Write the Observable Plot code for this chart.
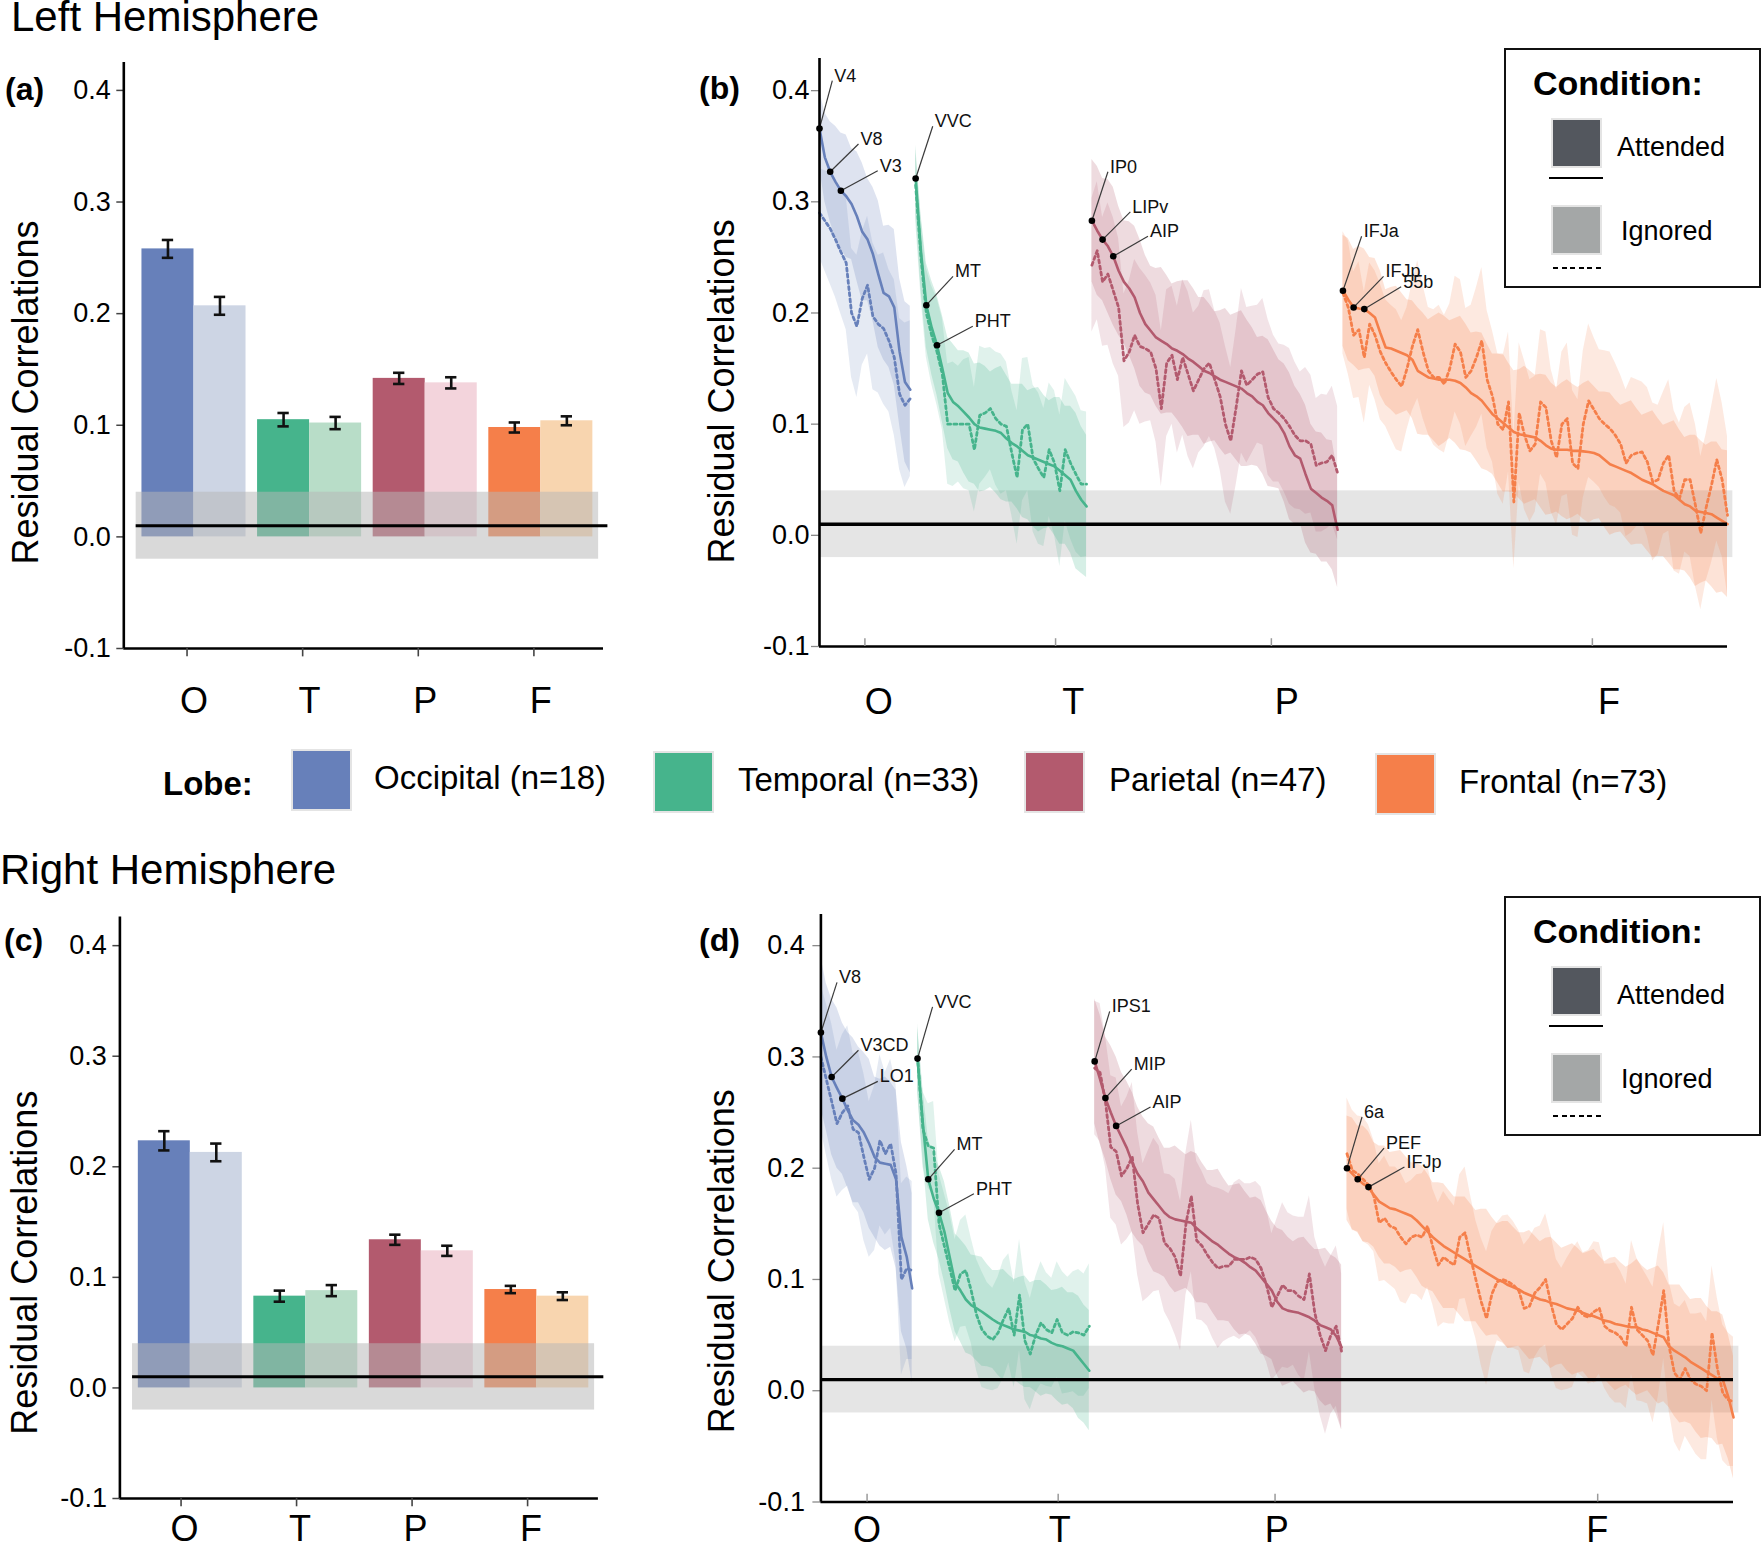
<!DOCTYPE html>
<html>
<head>
<meta charset="utf-8">
<script src="https://cdn.jsdelivr.net/npm/d3@7"></script>
<script src="https://cdn.jsdelivr.net/npm/@observablehq/plot@0.6"></script>
<style>
  html, body { margin: 0; padding: 0; background: #fff; }
  #page { position: relative; width: 1763px; height: 1542px; overflow: hidden;
          font-family: "Liberation Sans", Arial, Helvetica, sans-serif; color: #000; background: #fff; }
  .abs { position: absolute; white-space: nowrap; line-height: 1; }
  .sw { position: absolute; box-sizing: border-box; border: 2px solid #e4e4e4; }
  .condbox { position: absolute; box-sizing: border-box; border: 2px solid #111; width: 257px; height: 240px; background: #fff; }
</style>
</head>
<body>
<div id="page"></div>
<script>
// ---------------- DATA ----------------
const lobes = ["Occipital", "Temporal", "Parietal", "Frontal"];
const lobeLetters = ["O", "T", "P", "F"];
const lobeCounts = [18, 33, 47, 73];
const lobeColors = ["#6780BA", "#46B48C", "#B35A6E", "#F57F4A"];
const lobeLightColors = ["#CDD5E4", "#B8DDC8", "#F3D4DC", "#F8D5AF"];
const conditions = ["Attended", "Ignored"];
const conditionColors = ["#53575E", "#A4A7A7"];
const yTicks = [-0.1, 0, 0.1, 0.2, 0.3, 0.4];
const nullBand = [-0.02, 0.04];
const nullLine = 0.01;

// bar charts (a) left, (c) right
const barAttLH = [0.258, 0.105, 0.142, 0.098];
const barIgnLH = [0.207, 0.102, 0.138, 0.104];
const errAttLH = [0.008, 0.006, 0.005, 0.0045];
const errIgnLH = [0.008, 0.0055, 0.005, 0.004];
const barAttRH = [0.2235, 0.083, 0.134, 0.089];
const barIgnRH = [0.213, 0.088, 0.124, 0.083];
const errAttRH = [0.0087, 0.005, 0.0046, 0.0033];
const errIgnRH = [0.008, 0.005, 0.0046, 0.0035];

// line charts (b) left hemisphere
const attLH_O = [0.366,0.34,0.327,0.318,0.31,0.305,0.298,0.287,0.273,0.266,0.253,0.235,0.218,0.215,0.205,0.165,0.138,0.131];
const ignLH_O = [0.29,0.283,0.276,0.266,0.255,0.245,0.2,0.188,0.213,0.225,0.197,0.19,0.186,0.175,0.16,0.127,0.117,0.123];
const attLH_T = [0.321,0.255,0.207,0.187,0.171,0.15,0.128,0.12,0.116,0.111,0.106,0.1,0.097,0.096,0.095,0.094,0.092,0.087,0.083,0.08,0.076,0.072,0.07,0.068,0.066,0.064,0.062,0.058,0.054,0.05,0.04,0.032,0.026];
const ignLH_T = [0.315,0.25,0.2,0.18,0.165,0.145,0.1,0.1,0.1,0.1,0.1,0.077,0.108,0.11,0.114,0.105,0.1,0.098,0.074,0.052,0.095,0.1,0.069,0.06,0.052,0.077,0.065,0.04,0.077,0.065,0.055,0.046,0.046];
const attLH_P = [0.283,0.274,0.266,0.26,0.251,0.238,0.228,0.222,0.214,0.2,0.19,0.184,0.178,0.175,0.172,0.168,0.166,0.163,0.159,0.156,0.152,0.148,0.146,0.143,0.14,0.138,0.136,0.134,0.132,0.128,0.125,0.12,0.117,0.11,0.105,0.1,0.092,0.08,0.072,0.069,0.055,0.042,0.038,0.034,0.031,0.027,0.005];
const ignLH_P = [0.243,0.256,0.228,0.235,0.22,0.205,0.157,0.165,0.18,0.17,0.168,0.165,0.15,0.114,0.155,0.162,0.14,0.16,0.145,0.13,0.14,0.15,0.155,0.14,0.125,0.1,0.085,0.115,0.148,0.135,0.14,0.145,0.147,0.124,0.114,0.11,0.105,0.098,0.09,0.085,0.085,0.082,0.063,0.065,0.066,0.072,0.056];
const attLH_F = [0.22,0.212,0.205,0.204,0.2035,0.2,0.196,0.182,0.169,0.168,
  0.166,0.164,0.162,0.158,0.148,0.145,0.142,0.141,0.14,0.14,
  0.14,0.139,0.137,0.133,0.128,0.125,0.121,0.115,0.109,0.105,
  0.101,0.097,0.093,0.091,0.09,0.089,0.088,0.085,0.081,0.078,
  0.077,0.077,0.077,0.076,0.076,0.0755,0.075,0.074,0.072,0.068,
  0.064,0.062,0.06,0.058,0.056,0.053,0.05,0.048,0.046,0.043,
  0.04,0.038,0.036,0.032,0.028,0.026,0.022,0.021,0.02,0.019,
  0.016,0.013,0.01];
const ignLH_F = [0.218,0.205,0.18,0.185,0.16,0.19,0.18,0.165,0.155,0.147,
  0.14,0.134,0.15,0.17,0.185,0.165,0.148,0.142,0.142,0.136,
  0.15,0.172,0.165,0.142,0.148,0.16,0.175,0.14,0.125,0.1,
  0.095,0.12,0.03,0.11,0.09,0.076,0.082,0.12,0.115,0.085,
  0.07,0.1,0.105,0.065,0.06,0.1,0.121,0.113,0.105,0.1,
  0.096,0.09,0.082,0.065,0.072,0.074,0.075,0.066,0.048,0.05,
  0.065,0.072,0.04,0.033,0.05,0.05,0.027,0.002,0.025,0.045,
  0.068,0.05,0.018];
const seAttLH_O = [0.035,0.04,0.045,0.05,0.052,0.055,0.05,0.058,0.062,0.055,0.06,0.066,0.06,0.064,0.07,0.066,0.072,0.075];
const seIgnLH_O = [0.04,0.045,0.05,0.052,0.056,0.06,0.058,0.064,0.06,0.062,0.066,0.062,0.068,0.064,0.07,0.068,0.074,0.07];
const seAttLH_T = [0.03,0.034,0.038,0.042,0.045,0.048,0.05,0.052,0.05,0.055,0.058,0.054,0.058,0.056,0.052,0.056,0.06,0.057,0.053,0.056,0.06,0.058,0.062,0.065,0.06,0.057,0.062,0.066,0.062,0.066,0.07,0.066,0.064];
const seIgnLH_T = [0.032,0.036,0.04,0.044,0.048,0.05,0.054,0.056,0.052,0.058,0.06,0.056,0.062,0.058,0.055,0.06,0.063,0.058,0.056,0.06,0.064,0.06,0.066,0.068,0.062,0.06,0.065,0.068,0.064,0.068,0.07,0.066,0.065];
const seAttLH_P = [0.055,0.058,0.055,0.06,0.062,0.058,0.055,0.06,0.064,0.066,0.062,0.058,0.062,0.066,0.062,0.058,0.062,0.066,0.07,0.066,0.062,0.066,0.062,0.058,0.062,0.066,0.062,0.066,0.07,0.066,0.062,0.058,0.062,0.066,0.062,0.058,0.062,0.066,0.062,0.058,0.062,0.058,0.055,0.058,0.055,0.058,0.052];
const seIgnLH_P = [0.06,0.062,0.058,0.064,0.066,0.062,0.06,0.064,0.068,0.07,0.066,0.062,0.066,0.07,0.066,0.062,0.066,0.07,0.074,0.07,0.066,0.07,0.066,0.062,0.066,0.07,0.066,0.07,0.074,0.07,0.066,0.062,0.066,0.07,0.066,0.062,0.066,0.07,0.066,0.062,0.066,0.062,0.06,0.062,0.06,0.062,0.06];
const seAttLH_F = [0.05,0.055,0.052,0.056,0.054,0.05,0.053,0.056,0.052,0.055,0.058,0.054,0.05,0.053,0.057,0.055,0.052,0.056,0.06,0.057,0.053,0.056,0.06,0.057,0.054,0.058,0.061,0.057,0.054,0.058,0.062,0.058,0.055,0.058,0.062,0.059,0.056,0.06,0.063,0.059,0.056,0.06,0.063,0.06,0.057,0.061,0.064,0.06,0.057,0.061,0.064,0.06,0.057,0.061,0.065,0.061,0.058,0.062,0.066,0.062,0.059,0.063,0.067,0.063,0.06,0.064,0.068,0.064,0.061,0.065,0.068,0.064,0.066];
const seIgnLH_F = [0.055,0.06,0.057,0.061,0.059,0.055,0.058,0.061,0.057,0.06,0.063,0.059,0.055,0.058,0.062,0.06,0.057,0.061,0.065,0.062,0.058,0.061,0.065,0.062,0.059,0.063,0.066,0.062,0.059,0.063,0.067,0.063,0.06,0.063,0.067,0.064,0.061,0.065,0.068,0.064,0.061,0.065,0.068,0.065,0.062,0.066,0.069,0.065,0.062,0.066,0.069,0.065,0.062,0.066,0.07,0.066,0.063,0.067,0.071,0.067,0.064,0.068,0.072,0.068,0.065,0.069,0.073,0.069,0.066,0.07,0.073,0.069,0.071];

// line charts (d) right hemisphere
const attRH_O = [0.322,0.3,0.282,0.272,0.2625,0.252,0.243,0.239,0.232,0.222,0.21,0.205,0.204,0.203,0.19,0.138,0.12,0.092];
const ignRH_O = [0.3,0.28,0.26,0.24,0.25,0.256,0.235,0.232,0.21,0.19,0.2,0.225,0.213,0.222,0.195,0.1,0.11,0.108];
const attRH_T = [0.2985,0.24,0.19,0.173,0.16,0.143,0.12,0.097,0.09,0.082,0.077,0.074,0.071,0.0675,0.064,0.061,0.059,0.057,0.055,0.054,0.053,0.05,0.049,0.047,0.046,0.043,0.041,0.04,0.038,0.036,0.03,0.024,0.018];
const ignRH_T = [0.3,0.235,0.22,0.218,0.15,0.13,0.11,0.09,0.105,0.108,0.09,0.068,0.055,0.049,0.046,0.052,0.064,0.074,0.05,0.086,0.045,0.033,0.05,0.061,0.055,0.052,0.064,0.052,0.05,0.053,0.052,0.05,0.058];
const attRH_P = [0.296,0.28,0.263,0.25,0.238,0.228,0.218,0.205,0.195,0.188,0.178,0.172,0.166,0.16,0.156,0.154,0.153,0.152,0.151,0.146,0.142,0.138,0.134,0.131,0.127,0.123,0.12,0.118,0.115,0.111,0.108,0.102,0.096,0.09,0.08,0.074,0.072,0.071,0.07,0.068,0.066,0.063,0.059,0.057,0.055,0.049,0.039];
const ignRH_P = [0.29,0.286,0.26,0.219,0.215,0.193,0.2,0.21,0.168,0.142,0.15,0.158,0.155,0.133,0.128,0.12,0.103,0.15,0.175,0.135,0.13,0.122,0.115,0.11,0.112,0.112,0.118,0.118,0.118,0.12,0.118,0.11,0.095,0.075,0.085,0.095,0.09,0.09,0.085,0.082,0.105,0.07,0.05,0.036,0.05,0.058,0.035];
const attRH_F = [0.2,0.195,0.19,0.186,0.183,0.176,0.17,0.167,0.164,0.163,
  0.161,0.159,0.157,0.153,0.148,0.143,0.138,0.134,0.13,0.127,
  0.124,0.121,0.118,0.115,0.112,0.109,0.106,0.103,0.1,0.098,
  0.095,0.093,0.091,0.088,0.086,0.084,0.082,0.081,0.079,0.078,
  0.076,0.074,0.073,0.072,0.07,0.068,0.067,0.065,0.063,0.062,
  0.06,0.059,0.058,0.057,0.057,0.055,0.054,0.052,0.05,0.048,
  0.04,0.036,0.033,0.03,0.026,0.023,0.02,0.017,0.014,0.011,
  0.01,-0.005,-0.024];
const ignRH_F = [0.213,0.198,0.195,0.19,0.185,0.175,0.151,0.155,0.148,0.146,
  0.138,0.132,0.138,0.14,0.138,0.148,0.129,0.113,0.12,0.116,
  0.113,0.138,0.142,0.12,0.1,0.08,0.065,0.087,0.098,0.1,
  0.098,0.095,0.09,0.074,0.076,0.088,0.093,0.1,0.078,0.06,
  0.055,0.06,0.065,0.075,0.068,0.066,0.071,0.074,0.058,0.054,
  0.052,0.048,0.04,0.075,0.055,0.05,0.045,0.032,0.06,0.09,
  0.04,0.016,0.01,0.02,0.01,0.006,0.004,0.0,0.052,0.02,
  -0.002,-0.008,-0.01];
const seAttRH_O = [0.068,0.066,0.07,0.072,0.068,0.07,0.074,0.07,0.072,0.076,0.072,0.075,0.078,0.074,0.08,0.085,0.082,0.085];
const seIgnRH_O = [0.065,0.068,0.07,0.066,0.07,0.072,0.068,0.072,0.075,0.07,0.074,0.077,0.073,0.076,0.08,0.086,0.082,0.08];
const seAttRH_T = [0.028,0.032,0.036,0.04,0.042,0.045,0.046,0.044,0.046,0.048,0.045,0.047,0.049,0.046,0.044,0.047,0.05,0.047,0.045,0.048,0.05,0.047,0.05,0.052,0.049,0.047,0.05,0.053,0.05,0.052,0.055,0.053,0.054];
const seIgnRH_T = [0.03,0.034,0.038,0.042,0.045,0.047,0.049,0.046,0.048,0.05,0.047,0.05,0.052,0.048,0.046,0.05,0.053,0.049,0.047,0.05,0.053,0.05,0.052,0.055,0.051,0.049,0.052,0.055,0.052,0.054,0.057,0.055,0.056];
const seAttRH_P = [0.056,0.058,0.055,0.06,0.062,0.058,0.06,0.063,0.06,0.058,0.062,0.065,0.061,0.058,0.062,0.066,0.063,0.06,0.064,0.067,0.063,0.06,0.064,0.068,0.064,0.061,0.065,0.068,0.064,0.062,0.066,0.069,0.065,0.062,0.066,0.07,0.066,0.063,0.067,0.07,0.066,0.064,0.068,0.071,0.067,0.07,0.074];
const seIgnRH_P = [0.06,0.062,0.059,0.064,0.066,0.062,0.064,0.067,0.064,0.062,0.066,0.069,0.065,0.062,0.066,0.07,0.067,0.064,0.068,0.071,0.067,0.064,0.068,0.072,0.068,0.065,0.069,0.072,0.068,0.066,0.07,0.073,0.069,0.066,0.07,0.074,0.07,0.067,0.071,0.074,0.07,0.068,0.072,0.075,0.071,0.072,0.07];
const seAttRH_F = [0.047,0.05,0.048,0.052,0.05,0.047,0.05,0.053,0.05,0.052,0.055,0.051,0.048,0.051,0.054,0.052,0.049,0.053,0.056,0.053,0.05,0.053,0.056,0.053,0.05,0.054,0.057,0.053,0.05,0.054,0.057,0.054,0.051,0.054,0.058,0.055,0.052,0.056,0.059,0.055,0.052,0.056,0.059,0.056,0.053,0.057,0.06,0.056,0.053,0.057,0.06,0.056,0.053,0.057,0.061,0.057,0.054,0.058,0.062,0.058,0.055,0.059,0.062,0.058,0.056,0.06,0.063,0.059,0.057,0.06,0.058,0.056,0.055];
const seIgnRH_F = [0.05,0.054,0.052,0.056,0.054,0.05,0.053,0.056,0.053,0.055,0.058,0.054,0.051,0.054,0.057,0.055,0.052,0.056,0.059,0.056,0.053,0.056,0.059,0.056,0.053,0.057,0.06,0.056,0.053,0.057,0.06,0.057,0.054,0.057,0.061,0.058,0.055,0.059,0.062,0.058,0.055,0.059,0.062,0.059,0.056,0.06,0.063,0.059,0.056,0.06,0.063,0.059,0.056,0.06,0.064,0.06,0.057,0.061,0.065,0.061,0.058,0.062,0.065,0.061,0.059,0.063,0.066,0.062,0.06,0.063,0.061,0.06,0.058];

// labelled areas (index into the ordered list of 171 areas)
const areaNamesLH = ["V4","V8","V3","VVC","MT","PHT","IP0","LIPv","AIP","IFJa","IFJp","55b"];
const areaIndexLH = [0,2,4,18,20,22,51,53,55,98,100,102];
const areaNamesRH = ["V8","V3CD","LO1","VVC","MT","PHT","IPS1","MIP","AIP","6a","PEF","IFJp"];
const areaIndexRH = [0,2,4,18,20,22,51,53,55,98,100,102];

// ---------------- LAYOUT (positions / styles) ----------------
const W = 1763, H = 1542;
const FONT = '"Liberation Sans", Arial, Helvetica, sans-serif';
const fmt = d => d.toFixed(1);
const barSlot = {Attended: [0.05, 0.5], Ignored: [0.5, 0.95]};
const capHalf = 0.049;
// label nudges (repel offsets, in data units: [index, value])
const nudgeLH = [[2.4,0.043],[5.3,0.025],[6.9,0.018],[3.2,0.047],[5.0,0.026],[6.7,0.017],[3.0,0.044],[5.2,0.025],[6.5,0.018],[3.5,0.049],[5.6,0.028],[6.9,0.02]];
const nudgeRH = [[3.0,0.045],[5.0,0.024],[6.6,0.0155],[2.8,0.0465],[4.9,0.027],[6.5,0.017],[2.8,0.045],[4.9,0.026],[6.4,0.017],[2.8,0.046],[4.9,0.028],[6.7,0.018]];

function buildSeries(att, ign, seA, seI) {
  const rows = [];
  let k = 0;
  lobes.forEach((lobe, j) => {
    if (att[j].length !== lobeCounts[j] || ign[j].length !== lobeCounts[j] || seA[j].length !== lobeCounts[j] || seI[j].length !== lobeCounts[j])
      console.error("length mismatch", lobe, att[j].length, ign[j].length, seA[j].length, seI[j].length);
    att[j].forEach((v, i) => rows.push({lobe, k: k + i, att: v, ign: ign[j][i], seA: seA[j][i], seI: seI[j][i]}));
    k += lobeCounts[j];
  });
  return rows;
}
function buildBars(att, ign, eA, eI) {
  return lobes.flatMap((lobe, i) => [
    {i, lobe, cond: "Attended", v: att[i], e: eA[i], fill: lobeColors[i]},
    {i, lobe, cond: "Ignored", v: ign[i], e: eI[i], fill: lobeLightColors[i]}
  ]);
}
const svgStyle = {position: "absolute", left: "0px", top: "0px", overflow: "visible", fontFamily: FONT, fontSize: "27px", maxWidth: "none", background: "transparent"};

function barPanel(o) {
  const bars = o.bars;
  const center = d => d.i + (barSlot[d.cond][0] + barSlot[d.cond][1]) / 2;
  return Plot.plot({
    width: W, height: H,
    marginLeft: o.frame[0], marginRight: W - o.frame[1], marginTop: o.frame[2], marginBottom: H - o.frame[3],
    x: {domain: o.xDomain, axis: null},
    y: {domain: o.yDomain, label: null},
    color: {type: "identity"},
    style: svgStyle,
    marks: [
      Plot.rect(bars, {x1: d => d.i + barSlot[d.cond][0], x2: d => d.i + barSlot[d.cond][1], y1: 0, y2: "v", fill: "fill"}),
      Plot.ruleX(bars, {x: center, y1: d => d.v - d.e, y2: d => d.v + d.e, stroke: "#111", strokeWidth: 2.6}),
      Plot.ruleY(bars, {y: d => d.v + d.e, x1: d => center(d) - capHalf, x2: d => center(d) + capHalf, stroke: "#111", strokeWidth: 2.6}),
      Plot.ruleY(bars, {y: d => d.v - d.e, x1: d => center(d) - capHalf, x2: d => center(d) + capHalf, stroke: "#111", strokeWidth: 2.6}),
      Plot.rect([nullBand], {x1: 0, x2: 4, y1: d => d[0], y2: d => d[1], fill: "#b7b7b7", fillOpacity: 0.52}),
      Plot.ruleY([nullLine], {x1: 0, x2: 4.08, stroke: "#000", strokeWidth: 3}),
      Plot.axisY({ticks: yTicks, tickSize: 7, tickPadding: o.tickPadding, tickFormat: fmt, label: null, stroke: "#444", strokeWidth: 1.5}),
      Plot.ruleX([o.xDomain[0]], {y1: o.yDomain[0], y2: o.yDomain[1], stroke: "#000", strokeWidth: 2.6}),
      Plot.ruleY([o.yDomain[0]], {x1: o.xDomain[0], x2: o.xDomain[1], stroke: "#000", strokeWidth: 2.6}),
      Plot.ruleX(o.tickPos, {y1: o.yDomain[0], y2: o.yDomain[0] - 0.0075, stroke: "#444", strokeWidth: 1.6}),
      Plot.text(lobeLetters, {x: (d, i) => o.labelPos[i], frameAnchor: "bottom", dy: o.labelDy, fontSize: 36, lineAnchor: "middle", textAnchor: "middle"}),
      Plot.text(["Residual Correlations"], {frameAnchor: "left", rotate: -90, dx: o.titleDx, dy: o.titleDy, fontSize: 36, textAnchor: "middle", lineAnchor: "middle"})
    ]
  });
}

function linePanel(o) {
  const rows = o.rows;
  const lab = o.names.map((name, j) => {
    const r = rows[o.index[j]];
    return {name, k: r.k, v: r.att, k2: r.k + o.nudge[j][0], v2: r.att + o.nudge[j][1]};
  });
  return Plot.plot({
    width: W, height: H,
    marginLeft: o.frame[0], marginRight: W - o.frame[1], marginTop: o.frame[2], marginBottom: H - o.frame[3],
    x: {domain: [0, 170], axis: null},
    y: {domain: o.yDomain, label: null},
    color: {domain: lobes, range: lobeColors},
    style: svgStyle,
    marks: [
      Plot.rect([nullBand], {x1: 0, x2: 171, y1: d => d[0], y2: d => d[1], fill: "#b7b7b7", fillOpacity: 0.36}),
      Plot.areaY(rows, {x: "k", y1: d => d.att - d.seA, y2: d => d.att + d.seA, z: "lobe", fill: "lobe", fillOpacity: 0.22}),
      Plot.areaY(rows, {x: "k", y1: d => d.ign - d.seI, y2: d => d.ign + d.seI, z: "lobe", fill: "lobe", fillOpacity: 0.17}),
      Plot.lineY(rows, {x: "k", y: "ign", z: "lobe", stroke: "lobe", strokeWidth: 2.8, strokeDasharray: "3,3.2"}),
      Plot.lineY(rows, {x: "k", y: "att", z: "lobe", stroke: "lobe", strokeWidth: 2.6}),
      Plot.ruleY([nullLine], {x1: 0, x2: 170, stroke: "#000", strokeWidth: 3.4}),
      Plot.link(lab, {x1: "k", y1: "v", x2: "k2", y2: "v2", stroke: "#3a3a3a", strokeWidth: 1.2}),
      Plot.dot(lab, {x: "k", y: "v", r: 3.3, fill: "#000"}),
      Plot.text(lab, {x: "k2", y: "v2", text: "name", textAnchor: "start", lineAnchor: "bottom", dx: 2, dy: 1, fontSize: 18, fill: "#111"}),
      Plot.axisY({ticks: yTicks, tickSize: 8, tickPadding: o.tickPadding, tickFormat: fmt, label: null, stroke: "#8a8a8a", strokeWidth: 1.3}),
      Plot.ruleX([0], {y1: o.yDomain[0], y2: o.yDomain[1], stroke: "#000", strokeWidth: 2.6}),
      Plot.ruleY([o.yDomain[0]], {x1: 0, x2: 170, stroke: "#000", strokeWidth: 2.6}),
      Plot.ruleX(o.tickPos, {y1: o.yDomain[0], y2: o.yDomain[0] + 0.007, stroke: "#9a9a9a", strokeWidth: 1.5}),
      Plot.text(lobeLetters, {x: (d, i) => o.labelPos[i], frameAnchor: "bottom", dy: o.labelDy, fontSize: 36, lineAnchor: "middle", textAnchor: "middle"}),
      Plot.text(["Residual Correlations"], {frameAnchor: "left", rotate: -90, dx: o.titleDx, dy: o.titleDy, fontSize: 36, textAnchor: "middle", lineAnchor: "middle"})
    ]
  });
}

const page = document.getElementById("page");

const seriesLH = buildSeries([attLH_O, attLH_T, attLH_P, attLH_F], [ignLH_O, ignLH_T, ignLH_P, ignLH_F],
  [seAttLH_O, seAttLH_T, seAttLH_P, seAttLH_F], [seIgnLH_O, seIgnLH_T, seIgnLH_P, seIgnLH_F]);
const seriesRH = buildSeries([attRH_O, attRH_T, attRH_P, attRH_F], [ignRH_O, ignRH_T, ignRH_P, ignRH_F],
  [seAttRH_O, seAttRH_T, seAttRH_P, seAttRH_F], [seIgnRH_O, seIgnRH_T, seIgnRH_P, seIgnRH_F]);

// (a)
page.appendChild(barPanel({
  bars: buildBars(barAttLH, barIgnLH, errAttLH, errIgnLH),
  frame: [123.3, 603, 62, 648], xDomain: [-0.107, 4.042], yDomain: [-0.1, 0.425],
  tickPos: [0.44, 1.44, 2.44, 3.44], labelPos: [0.5, 1.5, 2.5, 3.5], labelDy: 53,
  titleDx: -97, titleDy: 37, tickPadding: 6
}));
// (c)
page.appendChild(barPanel({
  bars: buildBars(barAttRH, barIgnRH, errAttRH, errIgnRH),
  frame: [119.4, 597.9, 916.4, 1498], xDomain: [-0.1095, 4.033], yDomain: [-0.1, 0.426],
  tickPos: [0.42, 1.42, 2.42, 3.42], labelPos: [0.45, 1.45, 2.45, 3.45], labelDy: 31,
  titleDx: -94, titleDy: 55, tickPadding: 6
}));
// (b)
page.appendChild(linePanel({
  rows: seriesLH, names: areaNamesLH, index: areaIndexLH, nudge: nudgeLH,
  frame: [819, 1727, 57.9, 646], yDomain: [-0.1, 0.429],
  tickPos: [8.5, 44.2, 84.6, 144.7], labelPos: [11.1, 47.5, 87.5, 147.8], labelDy: 56,
  titleDx: -97, titleDy: 39, tickPadding: 2
}));
// (d)
page.appendChild(linePanel({
  rows: seriesRH, names: areaNamesRH, index: areaIndexRH, nudge: nudgeRH,
  frame: [820.4, 1733, 914, 1501.5], yDomain: [-0.1, 0.428],
  tickPos: [8.6, 44.2, 84.6, 144.7], labelPos: [8.6, 44.5, 84.9, 144.6], labelDy: 28,
  titleDx: -98, titleDy: 53, tickPadding: 8
}));

// ---------------- HTML text, titles and legends ----------------
function addText(txt, left, top, size, weight) {
  const d = document.createElement("div");
  d.className = "abs";
  d.textContent = txt;
  d.style.left = left + "px";
  d.style.top = top + "px";
  d.style.fontSize = size + "px";
  if (weight) d.style.fontWeight = weight;
  page.appendChild(d);
  return d;
}
function addBox(cls, left, top, w, h, bg, parent) {
  const d = document.createElement("div");
  d.className = cls;
  Object.assign(d.style, {left: left + "px", top: top + "px"});
  if (w != null) d.style.width = w + "px";
  if (h != null) d.style.height = h + "px";
  if (bg) d.style.background = bg;
  (parent || page).appendChild(d);
  return d;
}

addText("Left Hemisphere", 11, -4, 42);
addText("Right Hemisphere", 0, 849, 42);
addText("(a)", 5, 73, 32, "bold");
addText("(b)", 699, 72, 32, "bold");
addText("(c)", 4, 924, 32, "bold");
addText("(d)", 699, 924, 32, "bold");

// Lobe legend
addText("Lobe:", 163, 767, 33, "bold");
const lobeSwatch = [[291, 749], [653, 751], [1024, 751], [1375, 753]];
const lobeTextPos = [[374, 761], [738, 763], [1109, 763], [1459, 765]];
lobes.forEach((lobe, i) => {
  addBox("sw", lobeSwatch[i][0], lobeSwatch[i][1], 61, 62, lobeColors[i]);
  addText(`${lobe} (n=${lobeCounts[i]})`, lobeTextPos[i][0], lobeTextPos[i][1], 33);
});

// Condition legends
function conditionLegend(top) {
  const box = addBox("condbox", 1504, top, null, null, "#fff");
  const t = document.createElement("div");
  t.className = "abs"; t.textContent = "Condition:";
  Object.assign(t.style, {left: "27px", top: "16px", fontSize: "34px", fontWeight: "bold"});
  box.appendChild(t);
  const swTop = [68, 155];
  const txtPos = [[111, 84], [115, 168]];
  conditions.forEach((c, i) => {
    addBox("sw", 45, swTop[i], 51, 50, conditionColors[i], box);
    const lt = document.createElement("div");
    lt.className = "abs"; lt.textContent = c;
    Object.assign(lt.style, {left: txtPos[i][0] + "px", top: txtPos[i][1] + "px", fontSize: "27px"});
    box.appendChild(lt);
    const line = document.createElement("div");
    line.style.position = "absolute";
    line.style.left = (i === 0 ? 43 : 47) + "px";
    line.style.top = (i === 0 ? 127 : 217) + "px";
    line.style.width = (i === 0 ? 54 : 51) + "px";
    line.style.height = "2.2px";
    line.style.background = i === 0 ? "#000" : "repeating-linear-gradient(to right, #000 0 5px, transparent 5px 8.6px)";
    box.appendChild(line);
  });
}
conditionLegend(48);
conditionLegend(896);
</script>
</body>
</html>
